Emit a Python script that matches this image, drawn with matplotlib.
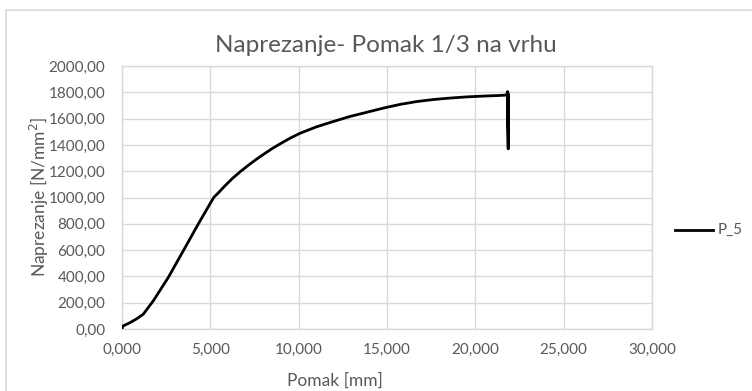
import matplotlib
matplotlib.use("Agg")
import matplotlib.pyplot as plt
from matplotlib.lines import Line2D
from matplotlib.ticker import FuncFormatter

plt.rcParams['font.family'] = ['Lato', 'DejaVu Sans']

# Displacement [mm] and stress [N/mm2] for specimen P_5
pomak = [0.00, 0.05, 0.17, 0.45, 0.80, 1.20, 1.77, 2.62, 3.47, 4.32, 4.98, 5.20, 5.45,
         5.80, 6.25, 6.70, 7.15, 7.60, 8.05, 8.50, 9.00, 9.50, 10.07, 11.00, 11.96,
         12.90, 13.85, 14.80, 15.74, 16.70, 17.62, 18.55, 19.50, 20.60, 21.40, 21.77,
         21.82, 21.86, 21.84, 21.88, 21.85]
naprezanje = [0.0, 22.0, 30.0, 48.0, 75.0, 112.0, 214.0, 392.0, 595.0, 799.0, 952.0, 1002.0, 1035.0,
              1085.0, 1145.0, 1197.0, 1245.0, 1290.0, 1332.0, 1372.0, 1412.0, 1450.0, 1488.0,
              1537.0, 1578.0, 1616.0, 1648.0, 1680.0, 1708.0, 1730.0, 1745.0, 1756.0, 1765.0,
              1772.0, 1776.0, 1779.0,
              1805.0, 1370.0, 1800.0, 1375.0, 1790.0]

x_ticks = [0, 5, 10, 15, 20, 25, 30]
y_ticks = [0, 200, 400, 600, 800, 1000, 1200, 1400, 1600, 1800, 2000]

naslov = "Naprezanje- Pomak 1/3 na vrhu"
serija = "P_5"

W, H = 752, 391
fig = plt.figure(figsize=(W / 100, H / 100), dpi=100)
fig.patch.set_facecolor('white')

# chart frame
frame = '#d9d9d9'
fig.add_artist(Line2D([6 / W, 6 / W], [0, 1 - 10 / H], transform=fig.transFigure, color=frame, lw=1.2))
fig.add_artist(Line2D([6 / W, 1], [1 - 10 / H, 1 - 10 / H], transform=fig.transFigure, color=frame, lw=1.2))

left, right, top, bottom = 122, 652, 66, 329
ax = fig.add_axes([left / W, 1 - bottom / H, (right - left) / W, (bottom - top) / H])

grid = '#d9d9d9'
ax.plot(pomak, naprezanje, color='black', lw=2.0,
        solid_joinstyle='round', solid_capstyle='butt', zorder=3)

ax.set_xlim(0, 30)
ax.set_ylim(0, 2000)
ax.set_xticks(x_ticks)
ax.set_yticks(y_ticks)
ax.xaxis.set_major_formatter(FuncFormatter(lambda v, p: f"{v:.3f}".replace('.', ',')))
ax.yaxis.set_major_formatter(FuncFormatter(lambda v, p: f"{v:.2f}".replace('.', ',')))
ax.grid(True, color=grid, lw=1.0, zorder=0)
ax.set_axisbelow(True)
for s in ax.spines.values():
    s.set_color(grid)
    s.set_linewidth(1.0)
ax.tick_params(length=0, labelsize=11, colors='#595959')
ax.tick_params(axis='y', pad=12)
ax.tick_params(axis='x', pad=10)

txt = '#595959'
fig.text(386 / W, 1 - 52 / H, naslov, ha='center', va='baseline', fontsize=17.5, color=txt)
fig.text(335 / W, 1 - 381 / H, "Pomak [mm]", ha='center', va='center', fontsize=12.5, color=txt)
fig.text(39 / W, 1 - 197 / H, "Naprezanje [N/mm$^2$]", ha='center', va='center', rotation=90,
         fontsize=12.5, color=txt)

# legend entry
fig.add_artist(Line2D([675 / W, 713 / W], [1 - 230 / H, 1 - 230 / H], transform=fig.transFigure,
                      color='black', lw=2.0))
fig.text(718 / W, 1 - 230 / H, serija, ha='left', va='center', fontsize=11, color=txt)

fig.savefig('out.png', dpi=100)
